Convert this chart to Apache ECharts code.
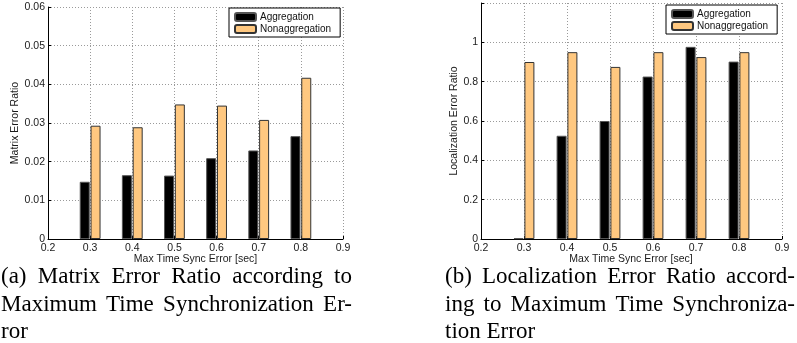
<!DOCTYPE html>
<html>
<head>
<meta charset="utf-8">
<script src="https://cdn.jsdelivr.net/npm/echarts@6/dist/echarts.min.js"></script>
<style>
  html, body { margin: 0; padding: 0; background: #fff; }
  #chart { width: 797px; height: 343px; }
</style>
</head>
<body>
<div id="chart"></div>
<script>
// Max time sync error (sec) at which each pair of bars is drawn
const syncErrors = [0.3, 0.4, 0.5, 0.6, 0.7, 0.8];

// (a) Matrix error ratio
const matrixAgg    = [0.0148, 0.0165, 0.0164, 0.0209, 0.0229, 0.0266];
const matrixNonAgg = [0.0293, 0.0289, 0.0348, 0.0345, 0.0308, 0.0417];

// (b) Localization error ratio
const locAgg    = [0.004, 0.525, 0.600, 0.826, 0.977, 0.902];
const locNonAgg = [0.900, 0.950, 0.875, 0.950, 0.925, 0.950];

const seriesNames = ['Aggregation', 'Nonaggregation'];
const xAxisTitle = 'Max Time Sync Error [sec]';
const yAxisTitles = ['Matrix Error Ratio', 'Localization Error Ratio'];

const captionA = [
  '(a) Matrix Error Ratio according to',
  'Maximum Time Synchronization Er-',
  'ror'
];
const captionB = [
  '(b) Localization Error Ratio accord-',
  'ing to Maximum Time Synchroniza-',
  'tion Error'
];

const SANS = '"Liberation Sans", Arial, Helvetica, sans-serif';
const SERIF = '"Liberation Serif", "Times New Roman", serif';
const AGG_COLOR = '#000000';
const NONAGG_COLOR = '#FFC880';

const chart = echarts.init(document.getElementById('chart'), null, { renderer: 'canvas' });

const grids = [
  { left: 48, top: 7, width: 295, height: 232 },
  { left: 481, top: 3, width: 301, height: 236 }
];

function xAxisFor(gi) {
  return {
    type: 'value', gridIndex: gi, min: 0.2, max: 0.9, interval: 0.1,
    axisLine: { show: true, onZero: false, lineStyle: { color: '#000', width: 1 } },
    axisTick: { show: true, inside: true, length: 3, lineStyle: { color: '#000' } },
    axisLabel: {
      show: true, margin: 4, color: '#1a1a1a', fontFamily: SANS, fontSize: 10.5,
      formatter: v => v.toFixed(1)
    },
    splitLine: { show: true, lineStyle: { color: '#9a9a9a', type: [1, 2], width: 1 } }
  };
}

function yAxisFor(gi, max, interval, fmt, gap) {
  return {
    type: 'value', gridIndex: gi, min: 0, max: max, interval: interval,
    name: yAxisTitles[gi], nameLocation: 'middle', nameGap: gap, nameRotate: 90,
    nameTextStyle: { fontFamily: SANS, fontSize: 10.5, color: '#1a1a1a' },
    axisLine: { show: true, lineStyle: { color: '#000', width: 1 } },
    axisTick: { show: true, inside: true, length: 3, lineStyle: { color: '#000' } },
    axisLabel: { show: true, margin: 3, color: '#1a1a1a', fontFamily: SANS, fontSize: 10.5, formatter: fmt },
    splitLine: { show: true, lineStyle: { color: '#9a9a9a', type: [1, 2], width: 1 } }
  };
}

function barSeries(name, values, gi, color, border) {
  return {
    name: name, type: 'bar', xAxisIndex: gi, yAxisIndex: gi,
    data: syncErrors.map((x, i) => [x, values[i]]),
    barWidth: 10, barGap: '8%',
    itemStyle: { color: color, borderColor: border, borderWidth: 1 },
    emphasis: { disabled: true },
    animation: false
  };
}

function legendFor(left, top) {
  return {
    show: true, orient: 'vertical', left: left, top: top,
    data: seriesNames,
    itemWidth: 21, itemHeight: 8, itemGap: 2,
    padding: [4, 9, 3, 5],
    borderColor: '#000', borderWidth: 1, backgroundColor: '#fff',
    textStyle: { fontFamily: SANS, fontSize: 10, color: '#111', padding: [0, 0, 0, -1] },
    selectedMode: false
  };
}

// Justified caption lines, laid out word by word like a typeset column
const measureCtx = document.createElement('canvas').getContext('2d');
const CAP_FONT_SIZE = 23;
measureCtx.font = CAP_FONT_SIZE + 'px ' + SERIF;

function captionGraphics(lines, x0, x1, baselines) {
  const out = [];
  lines.forEach((line, li) => {
    const words = line.split(' ');
    const justify = li < lines.length - 1;
    const widths = words.map(w => measureCtx.measureText(w).width);
    const total = widths.reduce((a, b) => a + b, 0);
    const spaceW = measureCtx.measureText(' ').width;
    const gap = justify && words.length > 1 ? (x1 - x0 - total) / (words.length - 1) : spaceW;
    let x = x0;
    words.forEach((w, wi) => {
      out.push({
        type: 'text', x: x, y: baselines[li], silent: true,
        style: {
          text: w, fill: '#000', font: CAP_FONT_SIZE + 'px ' + SERIF,
          textAlign: 'left', textVerticalAlign: 'bottom'
        }
      });
      x += widths[wi] + gap;
    });
  });
  return out;
}

const capBaselines = [288, 316, 343];

const option = {
  animation: false,
  backgroundColor: '#fff',
  grid: grids,
  xAxis: [xAxisFor(0), xAxisFor(1)],
  yAxis: [
    yAxisFor(0, 0.06, 0.01, v => (v === 0 ? '0' : v.toFixed(2)), 27),
    yAxisFor(1, 1.2, 0.2, v => (v === 0 ? '0' : (v > 1.1 ? '' : String(+v.toFixed(1)))), 21)
  ],
  legend: [legendFor(229, 8), legendFor(666, 5)],
  series: [
    barSeries(seriesNames[0], matrixAgg, 0, AGG_COLOR, '#555'),
    barSeries(seriesNames[1], matrixNonAgg, 0, NONAGG_COLOR, '#333'),
    barSeries(seriesNames[0], locAgg, 1, AGG_COLOR, '#555'),
    barSeries(seriesNames[1], locNonAgg, 1, NONAGG_COLOR, '#333')
  ],
  graphic: [
    {
      type: 'text', x: 195.5, y: 259, silent: true,
      style: { text: xAxisTitle, font: '10.5px ' + SANS, fill: '#1a1a1a', textAlign: 'center', textVerticalAlign: 'middle' }
    },
    {
      type: 'text', x: 631, y: 259, silent: true,
      style: { text: xAxisTitle, font: '10.5px ' + SANS, fill: '#1a1a1a', textAlign: 'center', textVerticalAlign: 'middle' }
    }
  ].concat(captionGraphics(captionA, 1, 352, capBaselines))
   .concat(captionGraphics(captionB, 445, 795, capBaselines))
};

chart.setOption(option);
</script>
</body>
</html>
